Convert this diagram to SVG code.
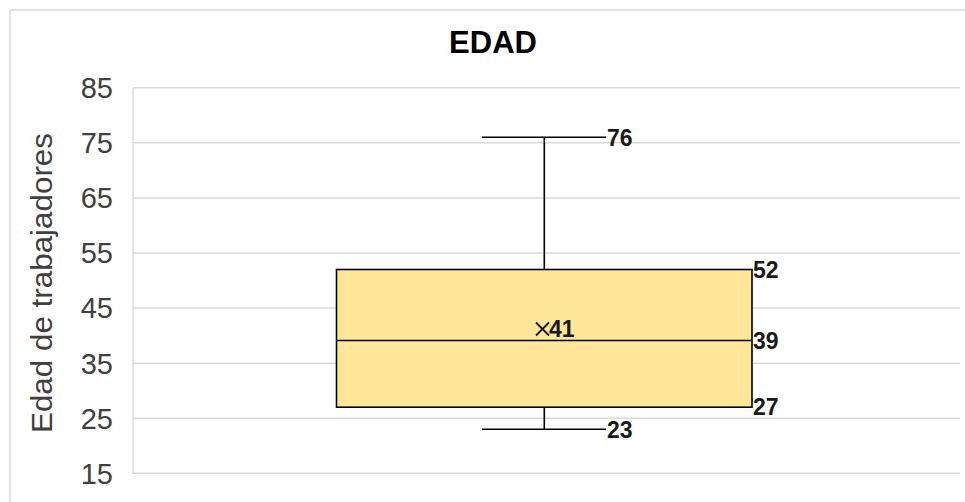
<svg xmlns="http://www.w3.org/2000/svg" width="965" height="502" viewBox="0 0 965 502">
<style>
.grid{stroke:#D9D9D9;stroke-width:1.5;fill:none}
.tick{font-family:"Liberation Sans",Arial,sans-serif;font-size:29px;fill:#404040;text-anchor:end}
.val{font-family:"Liberation Sans",Arial,sans-serif;font-size:23px;font-weight:bold;fill:#1a1a1a}
.ln{stroke:#000;stroke-width:1.6;fill:none}
</style>
<rect x="0" y="0" width="965" height="502" fill="#fff"/>
<rect x="10" y="10" width="970" height="520" fill="#fff" stroke="#D9D9D9" stroke-width="1.5"/>
<text x="493" y="52.5" font-family="Liberation Sans,Arial,sans-serif" font-size="31" font-weight="bold" text-anchor="middle" fill="#000">EDAD</text>
<g id="grid">
<line class="grid" x1="133" y1="87.7" x2="960" y2="87.7"/>
<line class="grid" x1="133" y1="142.8" x2="960" y2="142.8"/>
<line class="grid" x1="133" y1="197.9" x2="960" y2="197.9"/>
<line class="grid" x1="133" y1="253" x2="960" y2="253"/>
<line class="grid" x1="133" y1="308.1" x2="960" y2="308.1"/>
<line class="grid" x1="133" y1="363.2" x2="960" y2="363.2"/>
<line class="grid" x1="133" y1="418.3" x2="960" y2="418.3"/>
<line class="grid" x1="133" y1="473.3" x2="960" y2="473.3"/>
<line class="grid" x1="133" y1="87.7" x2="133" y2="473.3"/>
</g>
<g id="ticks">
<text class="tick" x="113" y="98">85</text>
<text class="tick" x="113" y="153.1">75</text>
<text class="tick" x="113" y="208.2">65</text>
<text class="tick" x="113" y="263.3">55</text>
<text class="tick" x="113" y="318.4">45</text>
<text class="tick" x="113" y="373.5">35</text>
<text class="tick" x="113" y="428.6">25</text>
<text class="tick" x="113" y="483.6">15</text>
</g>
<text transform="translate(52,283) rotate(-90)" font-family="Liberation Sans,Arial,sans-serif" font-size="29" fill="#404040" text-anchor="middle" textLength="300" lengthAdjust="spacingAndGlyphs">Edad de trabajadores</text>
<g id="connectors">
<line class="ln" x1="544.3" y1="137.3" x2="544.3" y2="269.5"/>
<line class="ln" x1="482" y1="137.3" x2="606" y2="137.3"/>
<line class="ln" x1="544.3" y1="407.2" x2="544.3" y2="429.2"/>
<line class="ln" x1="482" y1="429.2" x2="606" y2="429.2"/>
</g>
<g id="box">
<rect x="336.5" y="269.5" width="415.5" height="137.7" fill="#FFE699" stroke="#000" stroke-width="1.6"/>
<line class="ln" x1="336.5" y1="340.5" x2="752" y2="340.5"/>
</g>
<g id="mean">
<path d="M536 322.5 L549 335.5 M549 322.5 L536 335.5" stroke="#1a1a1a" stroke-width="1.8" fill="none"/>
<text class="val" x="549" y="337">41</text>
</g>
<g id="labels">
<text class="val" x="607" y="145.5">76</text>
<text class="val" x="753" y="277.5">52</text>
<text class="val" x="753" y="349">39</text>
<text class="val" x="753" y="415">27</text>
<text class="val" x="607" y="437.5">23</text>
</g>
</svg>
